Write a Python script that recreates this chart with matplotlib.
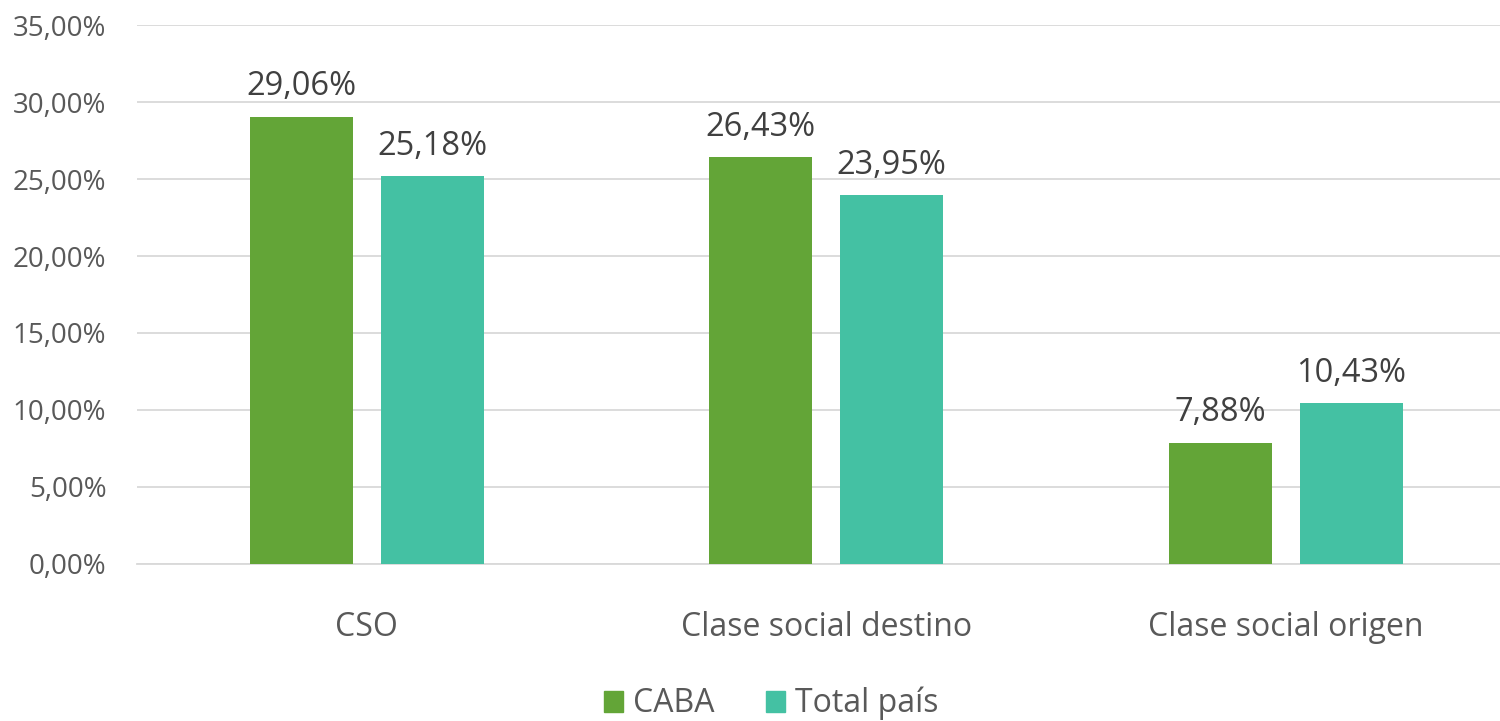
import matplotlib
matplotlib.use("Agg")
import matplotlib.pyplot as plt
import numpy as np
from matplotlib.ticker import FuncFormatter
from matplotlib.patches import Patch

categories = ["CSO", "Clase social destino", "Clase social origen"]
caba = [29.06, 26.43, 7.88]
total = [25.18, 23.95, 10.43]
series_names = ["CABA", "Total país"]
colors = ["#63A537", "#44C1A3"]

plt.rcParams['font.family'] = ['Open Sans', 'DejaVu Sans']

fig = plt.figure(figsize=(15, 7.21), dpi=100)
ax = fig.add_axes([0.0913, 0.218, 0.919, 0.747])

x = np.arange(len(categories))
w = 0.224
off = 0.1425
b1 = ax.bar(x - off, caba, w, color=colors[0], zorder=3)
b2 = ax.bar(x + off, total, w, color=colors[1], zorder=3)

def fmt(v):
    return f"{v:.2f}".replace(".", ",") + "%"

for bars, vals in ((b1, caba), (b2, total)):
    for r, v in zip(bars, vals):
        ax.annotate(fmt(v), (r.get_x() + r.get_width() / 2, v), xytext=(0, 15.5),
                    textcoords="offset points", ha="center", va="baseline",
                    fontsize=23.5, color="#404040")

ax.set_xlim(-0.5, 2.5)
ax.set_ylim(0, 35)
ax.set_yticks(np.arange(0, 36, 5))
ax.yaxis.set_major_formatter(FuncFormatter(lambda v, p: f"{v:.2f}".replace(".", ",") + "%"))
ax.grid(axis="y", color="#D9D9D9", linewidth=1.3, zorder=0)
ax.set_xticks(x)
ax.set_xticklabels(categories, fontsize=23, color="#595959")
ax.tick_params(axis="y", labelsize=20, labelcolor="#595959", length=0, pad=22)
ax.tick_params(axis="x", length=0, pad=34)
for s in ["top", "right", "left"]:
    ax.spines[s].set_visible(False)
ax.spines["bottom"].set_color("#D9D9D9")
ax.spines["bottom"].set_linewidth(1.3)

handles = [Patch(color=c, label=n) for c, n in zip(colors, series_names)]
fig.legend(handles=handles, loc="center", bbox_to_anchor=(0.514, 0.024), ncol=2,
           frameon=False, fontsize=23, labelcolor="#595959", handlelength=0.62,
           handleheight=0.62, handletextpad=0.3, columnspacing=1.6)

fig.savefig("out.png", dpi=100)
